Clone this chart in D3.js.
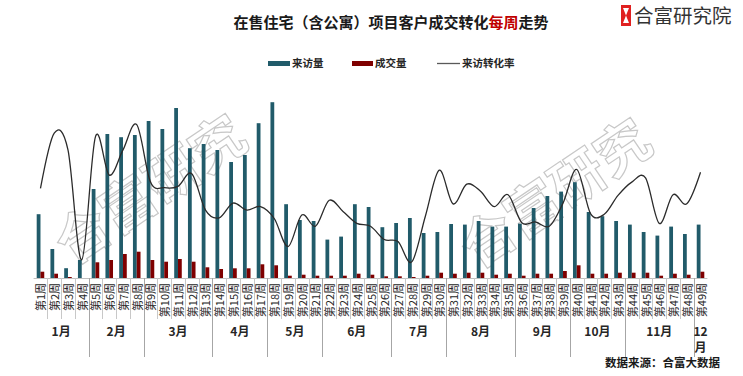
<!DOCTYPE html>
<html><head><meta charset="utf-8">
<script src="https://cdn.jsdelivr.net/npm/d3@7/dist/d3.min.js"></script>
<style>body{margin:0;background:#fff}svg{display:block;font-family:"Noto Sans CJK SC","Noto Sans",sans-serif}</style>
</head><body><svg id="c" width="743" height="376"></svg>
<script>
const weeks = ["第1周","第2周","第3周","第4周","第5周","第6周","第7周","第8周","第9周","第10周",
  "第11周","第12周","第13周","第14周","第15周","第16周","第17周","第18周","第19周","第20周",
  "第21周","第22周","第23周","第24周","第25周","第26周","第27周","第28周","第29周","第30周",
  "第31周","第32周","第33周","第34周","第35周","第36周","第37周","第38周","第39周","第40周",
  "第41周","第42周","第43周","第44周","第45周","第46周","第47周","第48周","第49周"];
const visits = [3190,1450,490,900,4450,7200,7040,7150,7850,7450,
  8500,6490,6700,6400,5800,6150,7740,8790,3690,2900,
  2850,1920,2070,3690,3550,2540,2750,3000,2250,2300,
  2700,2670,2850,2570,2570,2720,3500,4100,4320,4790,
  3300,3090,2850,2670,2300,2120,2570,2200,2670];
const deals = [315,215,50,0,785,900,1200,1315,900,815,
  950,815,535,450,485,485,685,635,115,165,
  115,115,115,215,165,85,85,50,115,265,
  215,265,265,165,215,115,215,215,350,635,
  215,215,265,265,265,115,215,165,315];
const rate = [12.8,20.7,18.3,2.6,20.2,14.7,18.3,21.9,13.7,12.9,
  13.1,14.9,9.7,8.6,10.7,9.7,10.2,8.5,4.5,9.0,
  7.4,11.1,9.5,7.8,7.4,5.5,5.2,2.3,8.9,15.4,
  10.6,13.4,12.4,10.2,11.9,7.9,8.0,7.4,10.7,15.5,
  9.2,9.1,11.8,13.7,14.3,7.8,11.9,10.6,15.1];
const monthLabels = ["1月","2月","3月","4月","5月","6月","7月","8月","9月","10月","11月","12月"];
const monthWeekCounts = [4,4,5,4,4,5,4,5,4,4,5,1];
const seriesNames = ["来访量","成交量","来访转化率"];

const svg = d3.select("#c");
const X0 = 33.6, X1 = 707.4, BASE = 278;
const teal = "#215B6A", red = "#7F0000", lineCol = "#2b2b2b";

const x = d3.scaleBand().domain(weeks).range([X0, X1]).paddingInner(0.45).paddingOuter(0.225);
const xs = d3.scaleBand().domain(["v","d"]).range([0, x.bandwidth()]);
const yBar = d3.scaleLinear().domain([0, 10000]).range([BASE, 78]);
const yRate = d3.scaleLinear().domain([0, 25]).range([BASE, 103]);
const step = x.step();

// watermarks
const wm = svg.append("g");
[[148,186],[553,190]].forEach(([cx,cy]) => {
  wm.append("text").attr("transform",`translate(${cx},${cy}) rotate(-34)`)
    .attr("text-anchor","middle").attr("dominant-baseline","central")
    .attr("font-size",54).attr("font-weight","bold")
    .attr("fill","#ffffff").attr("fill-opacity",0.35)
    .attr("stroke","#c8c8c8").attr("stroke-width",1.2)
    .text("合富研究");
});

// bars
const g = svg.append("g");
g.selectAll("rect.v").data(visits).join("rect").attr("class","v")
  .attr("x",(d,i)=>x(weeks[i])+xs("v")).attr("width",xs.bandwidth())
  .attr("y",d=>yBar(d)).attr("height",d=>BASE-yBar(d)).attr("fill",teal);
g.selectAll("rect.d").data(deals).join("rect").attr("class","d")
  .attr("x",(d,i)=>x(weeks[i])+xs("d")).attr("width",xs.bandwidth())
  .attr("y",d=>yBar(d)).attr("height",d=>BASE-yBar(d)).attr("fill",red);

// line
const line = d3.line().x((d,i)=>x(weeks[i])+x.bandwidth()/2).y(d=>yRate(d)).curve(d3.curveCatmullRom.alpha(0));
svg.append("path").datum(rate).attr("d",line).attr("fill","none").attr("stroke",lineCol).attr("stroke-width",1.3);

// axis
const ax = svg.append("g");
ax.append("line").attr("x1",X0).attr("x2",X1).attr("y1",BASE+0.5).attr("y2",BASE+0.5).attr("stroke","#bfbfbf");
let cum = 0; const monthBounds = new Set();
monthWeekCounts.forEach(c=>{cum+=c; monthBounds.add(cum);});
for (let i=1;i<weeks.length;i++){
  const xx = Math.round(X0 + i*step)+0.5;
  const isM = monthBounds.has(i);
  ax.append("line").attr("x1",xx).attr("x2",xx).attr("y1",BASE).attr("y2",isM?357:319)
    .attr("stroke", isM ? "#a6a6a6" : "#c8c8c8").attr("stroke-width",1);
}
weeks.forEach((w,i)=>{
  const cx = x(w)+x.bandwidth()/2;
  ax.append("text").attr("transform",`translate(${cx},283) rotate(-90)`)
    .attr("text-anchor","end").attr("dominant-baseline","central")
    .attr("font-size",11).attr("fill","#262626").text(w);
});
cum = 0;
monthLabels.forEach((m,i)=>{
  const start = X0 + cum*step; cum += monthWeekCounts[i];
  const end = X0 + cum*step; const cx = (start+end)/2;
  if (monthWeekCounts[i] === 1) {
    ax.append("text").attr("x",cx).attr("y",336).attr("text-anchor","middle")
      .attr("font-size",12).attr("font-weight","bold").attr("fill","#262626").text(m.slice(0,-1));
    ax.append("text").attr("x",cx).attr("y",352).attr("text-anchor","middle")
      .attr("font-size",12).attr("font-weight","bold").attr("fill","#262626").text(m.slice(-1));
  } else {
    ax.append("text").attr("x",cx).attr("y",336).attr("text-anchor","middle")
      .attr("font-size",12).attr("font-weight","bold").attr("fill","#262626").text(m);
  }
});

// title
const title = svg.append("text").attr("x",391).attr("y",28).attr("text-anchor","middle")
  .attr("font-size",15).attr("font-weight","bold").attr("fill","#1a1a1a");
title.append("tspan").text("在售住宅（含公寓）项目客户成交转化");
title.append("tspan").attr("fill","#C00000").text("每周");
title.append("tspan").text("走势");

// legend
const lg = svg.append("g").attr("font-size",10.5).attr("font-weight","bold").attr("fill","#262626");
lg.append("rect").attr("x",268).attr("y",61).attr("width",22).attr("height",5).attr("fill",teal);
lg.append("text").attr("x",292).attr("y",67).text(seriesNames[0]);
lg.append("rect").attr("x",352).attr("y",61).attr("width",21).attr("height",5).attr("fill",red);
lg.append("text").attr("x",375).attr("y",67).text(seriesNames[1]);
lg.append("line").attr("x1",437).attr("x2",460).attr("y1",63.5).attr("y2",63.5).attr("stroke","#595959").attr("stroke-width",1.3);
lg.append("text").attr("x",462).attr("y",67).text(seriesNames[2]);

// logo
const logo = svg.append("g");
logo.append("rect").attr("x",621).attr("y",5).attr("width",10).attr("height",21).attr("fill","#e02020");
logo.append("path").attr("d","M623,8 L629,8 L626,15.5 Z M623,23 L629,23 L626,15.5 Z").attr("fill","#fff");
logo.append("text").attr("x",634).attr("y",23).attr("font-size",19.5).attr("fill","#333").text("合富研究院");

// source
svg.append("text").attr("x",720).attr("y",367).attr("text-anchor","end").attr("font-size",11.5)
  .attr("font-weight","bold").attr("fill","#1a1a1a").text("数据来源：合富大数据");
</script></body></html>
